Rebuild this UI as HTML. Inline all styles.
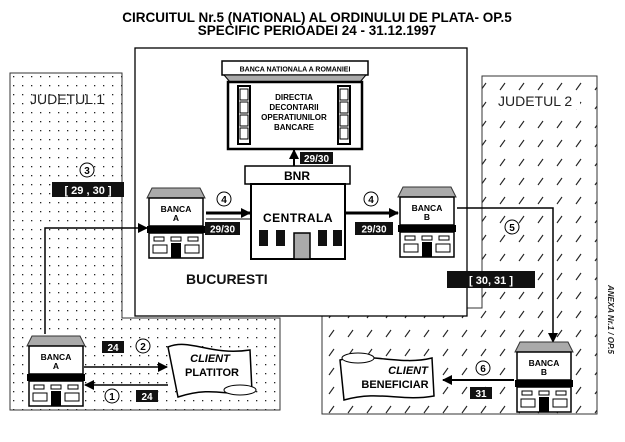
<!DOCTYPE html>
<html><head><meta charset="utf-8"><style>
body{margin:0;background:#fff}
svg{display:block;font-family:"Liberation Sans",Arial,sans-serif}
</style></head><body>
<svg width="625" height="442" viewBox="0 0 625 442" xmlns="http://www.w3.org/2000/svg">
<defs>
<pattern id="dots" width="9" height="9" patternUnits="userSpaceOnUse"><rect x="4" y="4" width="1.3" height="1.3" fill="#222"/></pattern>
<pattern id="sl" width="19" height="19" patternUnits="userSpaceOnUse"><path d="M6 14 L11 7" stroke="#222" stroke-width="1.1"/></pattern>
<marker id="ah" markerWidth="10" markerHeight="10" refX="9" refY="5" orient="auto" markerUnits="userSpaceOnUse"><path d="M0 0 L10 5 L0 10 Z" fill="#000"/></marker>
<g id="bank">
<polygon points="5,0 53,0 58,10 0,10" fill="#aaa" stroke="#333" stroke-width="1"/>
<rect x="2" y="10" width="54" height="28" fill="#fff" stroke="#000" stroke-width="1.5"/>
<rect x="0" y="38" width="58" height="7" fill="#000"/>
<rect x="2" y="45" width="54" height="25" fill="#fff" stroke="#000" stroke-width="1.5"/>
<rect x="7" y="49" width="10" height="4" fill="none" stroke="#000"/>
<rect x="24" y="49" width="10" height="4" fill="none" stroke="#000"/>
<rect x="41" y="49" width="10" height="4" fill="none" stroke="#000"/>
<rect x="6" y="57" width="14" height="8" fill="none" stroke="#000"/>
<rect x="38" y="57" width="14" height="8" fill="none" stroke="#000"/>
<rect x="24" y="55" width="10" height="15" fill="#000"/>
</g>
</defs>
<text x="317" y="22" text-anchor="middle" font-size="13.5" font-weight="bold">CIRCUITUL Nr.5 (NATIONAL) AL ORDINULUI DE PLATA- OP.5</text>
<text x="317" y="35" text-anchor="middle" font-size="13.5" font-weight="bold">SPECIFIC PERIOADEI 24 - 31.12.1997</text>

<!-- Judetul 1 -->
<path d="M10 73 H122 V318 H280 V410 H10 Z" fill="url(#dots)" stroke="#333" stroke-width="1"/>
<text x="30" y="104" font-size="14" fill="#222">JUDETUL 1</text>
<!-- Judetul 2 -->
<path d="M482 76 H597 V414 H322 V308 H482 Z" fill="url(#sl)" stroke="#333" stroke-width="1"/>
<rect x="495" y="91" width="85" height="18" fill="#fff"/>
<text x="498" y="106" font-size="14" fill="#222">JUDETUL 2</text>
<!-- Bucuresti -->
<rect x="135" y="48" width="332" height="268" fill="#fff" stroke="#000" stroke-width="1.3"/>
<text x="186" y="284" font-size="14" font-weight="bold" fill="#111">BUCURESTI</text>

<!-- BNR HQ -->
<rect x="222" y="61" width="146" height="14" fill="#fff" stroke="#000" stroke-width="1.5"/>
<text x="295" y="71.5" text-anchor="middle" font-size="7" font-weight="bold">BANCA NATIONALA A ROMANIEI</text>
<polygon points="224,75 366,75 360,82 230,82" fill="#aaa" stroke="#000"/>
<rect x="228" y="82" width="134" height="67" fill="#fff" stroke="#000" stroke-width="2.5"/>
<rect x="238" y="86" width="12" height="58" fill="#fff" stroke="#000" stroke-width="2"/>
<rect x="338" y="86" width="12" height="58" fill="#fff" stroke="#000" stroke-width="2"/>
<g fill="none" stroke="#000"><rect x="240" y="89" width="8" height="11"/><rect x="240" y="102" width="8" height="11"/><rect x="240" y="115" width="8" height="11"/><rect x="240" y="128" width="8" height="11"/><rect x="340" y="89" width="8" height="11"/><rect x="340" y="102" width="8" height="11"/><rect x="340" y="115" width="8" height="11"/><rect x="340" y="128" width="8" height="11"/></g>
<g font-size="8" font-weight="bold" text-anchor="middle"><text x="294" y="100">DIRECTIA</text><text x="294" y="110">DECONTARII</text><text x="294" y="120">OPERATIUNILOR</text><text x="294" y="130">BANCARE</text></g>
<line x1="294" y1="166" x2="294" y2="150" stroke="#000" stroke-width="2" marker-end="url(#ah)"/>
<rect x="300" y="152" width="33" height="12" fill="#111"/><text x="316.5" y="162" text-anchor="middle" font-size="10" font-weight="bold" fill="#fff">29/30</text>

<!-- Centrala -->
<rect x="245" y="166" width="105" height="18" fill="#fff" stroke="#000" stroke-width="1.5"/>
<text x="297" y="180" text-anchor="middle" font-size="12" font-weight="bold">BNR</text>
<rect x="251" y="184" width="94" height="75" fill="#fff" stroke="#000" stroke-width="2"/>
<text x="298" y="222" text-anchor="middle" font-size="12" font-weight="bold" letter-spacing="0.5">CENTRALA</text>
<g fill="#111"><rect x="259" y="230" width="9" height="16"/><rect x="276" y="230" width="9" height="16"/><rect x="318" y="230" width="9" height="16"/><rect x="333" y="230" width="9" height="16"/></g>
<rect x="294" y="233" width="16" height="26" fill="#aaa" stroke="#000" stroke-width="1.5"/>

<!-- Bucuresti banks -->
<use href="#bank" x="147" y="188"/>
<text x="176" y="212" text-anchor="middle" font-size="8.5" font-weight="bold">BANCA</text><text x="176" y="221" text-anchor="middle" font-size="8.5" font-weight="bold">A</text>
<use href="#bank" x="398" y="187"/>
<text x="427" y="211" text-anchor="middle" font-size="8.5" font-weight="bold">BANCA</text><text x="427" y="220" text-anchor="middle" font-size="8.5" font-weight="bold">B</text>

<line x1="206" y1="213" x2="250" y2="213" stroke="#000" stroke-width="3" marker-end="url(#ah)"/>
<line x1="206" y1="219" x2="250" y2="219" stroke="#000" stroke-width="1"/>
<circle cx="224" cy="199" r="7" fill="#fff" stroke="#000"/><text x="224" y="203" text-anchor="middle" font-size="10" font-weight="bold">4</text>
<rect x="205" y="222" width="35" height="13" fill="#111"/><text x="222.5" y="232.5" text-anchor="middle" font-size="10" font-weight="bold" fill="#fff">29/30</text>
<line x1="346" y1="213" x2="398" y2="213" stroke="#000" stroke-width="3" marker-end="url(#ah)"/>
<circle cx="371" cy="199" r="7" fill="#fff" stroke="#000"/><text x="371" y="203" text-anchor="middle" font-size="10" font-weight="bold">4</text>
<rect x="355" y="222" width="38" height="13" fill="#111"/><text x="374" y="232.5" text-anchor="middle" font-size="10" font-weight="bold" fill="#fff">29/30</text>

<!-- connector 3 -->
<path d="M45 334 V228 H147" fill="none" stroke="#000" stroke-width="1.5" marker-end="url(#ah)"/>
<circle cx="87" cy="170" r="7" fill="#fff" stroke="#000"/><text x="87" y="174" text-anchor="middle" font-size="10" font-weight="bold">3</text>
<rect x="52" y="182" width="72" height="15" fill="#111"/><text x="88" y="194" text-anchor="middle" font-size="11" font-weight="bold" fill="#fff">[ 29 , 30 ]</text>
<!-- connector 5 -->
<path d="M457 208 H553 V342" fill="none" stroke="#000" stroke-width="1.5" marker-end="url(#ah)"/>
<circle cx="512" cy="227" r="7" fill="#fff" stroke="#000"/><text x="512" y="231" text-anchor="middle" font-size="10" font-weight="bold">5</text>
<rect x="447" y="271" width="88" height="17" fill="#111"/><text x="491" y="284" text-anchor="middle" font-size="11" font-weight="bold" fill="#fff">[ 30, 31 ]</text>

<!-- lower Banca A -->
<use href="#bank" x="27" y="336"/>
<text x="56" y="360" text-anchor="middle" font-size="8.5" font-weight="bold">BANCA</text><text x="56" y="369" text-anchor="middle" font-size="8.5" font-weight="bold">A</text>
<!-- Client platitor scroll -->
<path d="M168 347 C190 338 210 356 250 350 L252 392 C230 398 215 385 178 397 Z" fill="#fff" stroke="#000" stroke-width="1.5"/>
<ellipse cx="240" cy="390" rx="16" ry="5" fill="#fff" stroke="#000"/>
<text x="210" y="362" text-anchor="middle" font-size="11" font-weight="bold" font-style="italic">CLIENT</text>
<text x="212" y="376" text-anchor="middle" font-size="11" font-weight="bold">PLATITOR</text>
<line x1="84" y1="367" x2="167" y2="367" stroke="#000" stroke-width="1.5" marker-end="url(#ah)"/>
<line x1="168" y1="385" x2="85" y2="385" stroke="#000" stroke-width="1.5" marker-end="url(#ah)"/>
<rect x="102" y="341" width="22" height="12" fill="#111"/><text x="113" y="351" text-anchor="middle" font-size="10" font-weight="bold" fill="#fff">24</text>
<circle cx="143" cy="346" r="7" fill="#fff" stroke="#000"/><text x="143" y="350" text-anchor="middle" font-size="10" font-weight="bold">2</text>
<circle cx="112" cy="396" r="7" fill="#fff" stroke="#000"/><text x="112" y="400" text-anchor="middle" font-size="10" font-weight="bold">1</text>
<rect x="136" y="390" width="22" height="12" fill="#111"/><text x="147" y="400" text-anchor="middle" font-size="10" font-weight="bold" fill="#fff">24</text>

<!-- lower Banca B -->
<use href="#bank" x="515" y="342"/>
<text x="544" y="366" text-anchor="middle" font-size="8.5" font-weight="bold">BANCA</text><text x="544" y="375" text-anchor="middle" font-size="8.5" font-weight="bold">B</text>
<path d="M340 360 C370 352 400 366 432 358 L434 396 C400 402 380 390 344 400 Z" fill="#fff" stroke="#000" stroke-width="1.5"/>
<ellipse cx="358" cy="358" rx="16" ry="5" fill="#fff" stroke="#000"/>
<text x="408" y="374" text-anchor="middle" font-size="11" font-weight="bold" font-style="italic">CLIENT</text>
<text x="395" y="388" text-anchor="middle" font-size="11" font-weight="bold">BENEFICIAR</text>
<line x1="514" y1="380" x2="443" y2="380" stroke="#000" stroke-width="2" marker-end="url(#ah)"/>
<circle cx="483" cy="368" r="7" fill="#fff" stroke="#000"/><text x="483" y="372" text-anchor="middle" font-size="10" font-weight="bold">6</text>
<rect x="470" y="387" width="22" height="12" fill="#111"/><text x="481" y="397" text-anchor="middle" font-size="10" font-weight="bold" fill="#fff">31</text>

<text x="0" y="0" transform="translate(608,285) rotate(90)" font-size="8" font-weight="bold" font-style="italic" fill="#222">ANEXA Nr.1 / OP.5</text>
</svg>
</body></html>
